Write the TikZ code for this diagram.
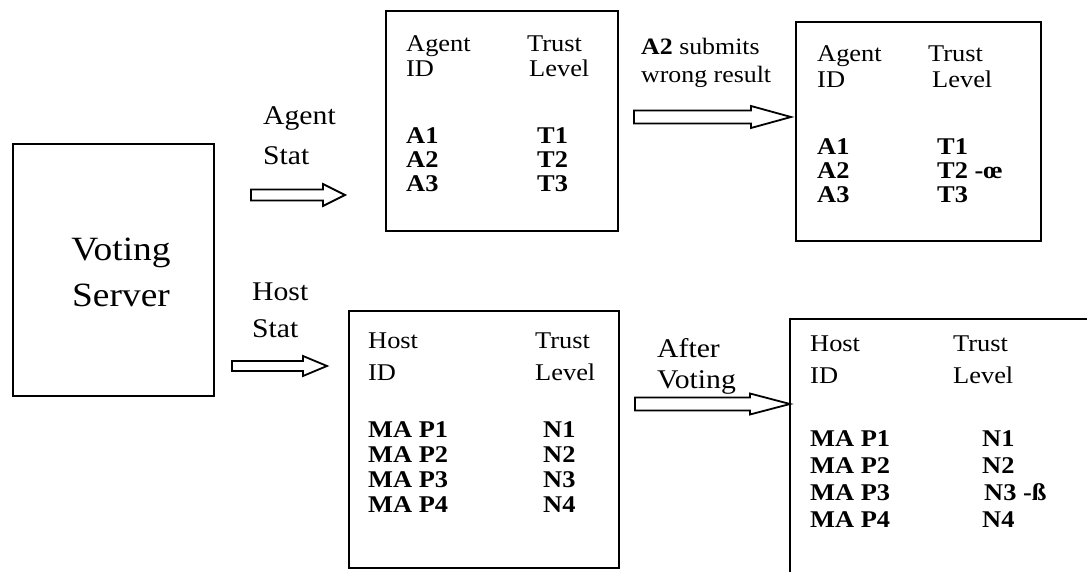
\documentclass[tikz,border=0pt]{standalone}
\usepackage{fontspec}
\setmainfont{Liberation Serif}[FakeStretch=1.1]
\usetikzlibrary{calc}

% Hollow block arrow: tail, tip, head length, shaft half-height, head half-height
\newcommand\fatarrow[5]{%
  \draw[arrowline]
    ($(#1)+(0,-#4)$) -- ($(#2)+(-#3,-#4)$) -- ($(#2)+(-#3,-#5)$) -- (#2)
    -- ($(#2)+(-#3,#5)$) -- ($(#2)+(-#3,#4)$) -- ($(#1)+(0,#4)$) -- cycle;}

\tikzset{
  frame/.style={draw, line width=1.8, rectangle, inner sep=0, anchor=north west},
  arrowline/.style={line width=1.8, line join=miter},
  cell/.style={anchor=base west, inner sep=0, font=\fontsize{24}{26}\selectfont},
  bcell/.style={anchor=base west, inner sep=0, font=\fontsize{24}{26}\selectfont\bfseries},
  lbl/.style={anchor=base west, inner sep=0, font=\fontsize{27}{30}\selectfont},
  note/.style={anchor=base west, inner sep=0, font=\fontsize{23.5}{26}\selectfont},
  big/.style={anchor=base, inner sep=0, font=\fontsize{34}{37}\selectfont},
}

\begin{document}
\begin{tikzpicture}[x=1pt, y=-1pt]
\useasboundingbox (0,0) rectangle (1087,572);
\clip (0,0) rectangle (1087,572);

% Voting server
\node[frame, minimum width=201, minimum height=252] (server) at (12,143) {};
\node[big] (srvA) at (121,260) {Voting};
\node[big] (srvB) at (121,306) {Server};

% Agent statistics
\node[lbl] (agLblA) at (263,125) {Agent};
\node[lbl] (agLblB) at (263,165) {Stat};
\coordinate (agTail) at (251,195);
\coordinate (agTip) at (345,195);
\fatarrow{agTail}{agTip}{22}{5.5}{11}

\node[frame, minimum width=232, minimum height=220] (agBefore) at (385,10) {};
\node[cell] (abH1) at (406,52) {Agent};
\node[cell] (abH2) at (406,77) {ID};
\node[cell] (abH3) at (527,52) {Trust};
\node[cell] (abH4) at (529,77) {Level};
\node[bcell] (abA1) at (406,144) {A1};
\node[bcell] (abA2) at (406,168) {A2};
\node[bcell] (abA3) at (406,192) {A3};
\node[bcell] (abT1) at (537,144) {T1};
\node[bcell] (abT2) at (537,168) {T2};
\node[bcell] (abT3) at (537,192) {T3};

\node[note] (wrongA) at (641,55) {\textbf{A2} submits};
\node[note] (wrongB) at (641,83) {wrong result};
\coordinate (wrTail) at (634,117);
\coordinate (wrTip) at (791,117);
\fatarrow{wrTail}{wrTip}{40}{6.5}{11}

\node[frame, minimum width=245, minimum height=219] (agAfter) at (795,21) {};
\node[cell] (aaH1) at (817,62) {Agent};
\node[cell] (aaH2) at (817,88) {ID};
\node[cell] (aaH3) at (928,62) {Trust};
\node[cell] (aaH4) at (932,88) {Level};
\node[bcell] (aaA1) at (817,155) {A1};
\node[bcell] (aaA2) at (817,179) {A2};
\node[bcell] (aaA3) at (817,203) {A3};
\node[bcell] (aaT1) at (937,155) {T1};
\node[bcell] (aaT2) at (937,179) {T2 -œ};
\node[bcell] (aaT3) at (937,203) {T3};

% Host statistics
\node[lbl] (hoLblA) at (252,300) {Host};
\node[lbl] (hoLblB) at (252,337) {Stat};
\coordinate (hoTail) at (232,366);
\coordinate (hoTip) at (327,366);
\fatarrow{hoTail}{hoTip}{24}{5}{10}

\node[frame, minimum width=270, minimum height=257] (hoBefore) at (348,310) {};
\node[cell] (hbH1) at (368,348) {Host};
\node[cell] (hbH2) at (368,380) {ID};
\node[cell] (hbH3) at (535,348) {Trust};
\node[cell] (hbH4) at (535,380) {Level};
\node[bcell] (hbP1) at (368,437) {MA P1};
\node[bcell] (hbP2) at (368,462) {MA P2};
\node[bcell] (hbP3) at (368,487) {MA P3};
\node[bcell] (hbP4) at (368,512) {MA P4};
\node[bcell] (hbN1) at (543,437) {N1};
\node[bcell] (hbN2) at (543,462) {N2};
\node[bcell] (hbN3) at (543,487) {N3};
\node[bcell] (hbN4) at (543,512) {N4};

\coordinate (avTail) at (635,404);
\coordinate (avTip) at (790,404);
\fatarrow{avTail}{avTip}{40}{6.5}{10.5}
\node[lbl] (avLblA) at (657,357) {After};
\node[lbl] (avLblB) at (657,388) {Voting};

\node[frame, minimum width=400, minimum height=300] (hoAfter) at (789,318) {};
\node[cell] (haH1) at (810,351) {Host};
\node[cell] (haH2) at (810,383) {ID};
\node[cell] (haH3) at (953,351) {Trust};
\node[cell] (haH4) at (953,383) {Level};
\node[bcell] (haP1) at (810,446) {MA P1};
\node[bcell] (haP2) at (810,473) {MA P2};
\node[bcell] (haP3) at (810,500) {MA P3};
\node[bcell] (haP4) at (810,527) {MA P4};
\node[bcell] (haN1) at (982,446) {N1};
\node[bcell] (haN2) at (982,473) {N2};
\node[bcell] (haN3) at (984,500) {N3 -ß};
\node[bcell] (haN4) at (982,527) {N4};
\end{tikzpicture}
\end{document}
